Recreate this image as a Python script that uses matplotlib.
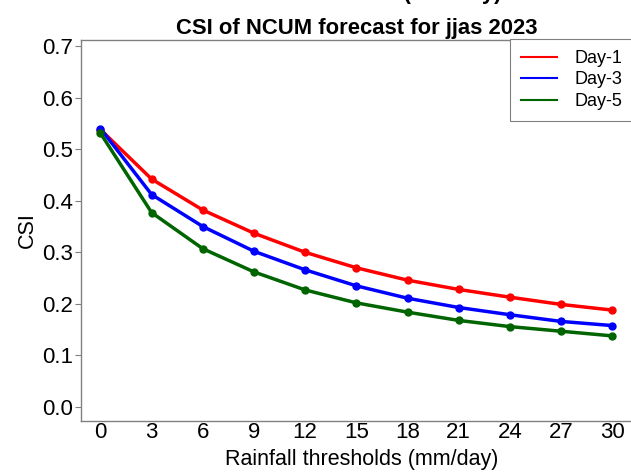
import matplotlib
matplotlib.use('Agg')
import matplotlib.pyplot as plt
import numpy as np

plt.rcParams['font.family'] = ['Liberation Sans', 'DejaVu Sans']

# rainfall thresholds (mm/day)
thresholds = [0, 3, 6, 9, 12, 15, 18, 21, 24, 27, 30]

# CSI values
csi_day1 = [0.538, 0.442, 0.382, 0.337, 0.300, 0.270, 0.246, 0.228, 0.213, 0.199, 0.188]
csi_day3 = [0.540, 0.412, 0.350, 0.302, 0.266, 0.235, 0.211, 0.193, 0.179, 0.166, 0.158]
csi_day5 = [0.531, 0.377, 0.307, 0.262, 0.227, 0.202, 0.184, 0.168, 0.156, 0.147, 0.138]

series = [('Day-1', csi_day1, '#ff0000'),
          ('Day-3', csi_day3, '#0000ff'),
          ('Day-5', csi_day5, '#006400')]

fig = plt.figure(figsize=(6.31, 4.72), dpi=100)
ax = fig.add_axes([81/631, 1 - 421/472, (643-81)/631, (421-40)/472])

for label, vals, col in series:
    ax.plot(thresholds, vals, color=col, lw=2.5, marker='o', ms=5, label=label)

ax.set_xlim(-1.14, 31.8)
ax.set_ylim(-0.027, 0.7116)
ax.set_xticks(thresholds)
yt = np.arange(0, 0.71, 0.1)
ax.set_yticks(yt)
ax.set_yticklabels(['%.1f' % v for v in yt])
ax.tick_params(axis='y', labelsize=16, length=4, color='gray', direction='out', pad=2)
ax.tick_params(axis='x', labelsize=16, length=0, pad=1)
for s in ax.spines.values():
    s.set_color('gray')
    s.set_linewidth(1)

ax.set_xlabel('Rainfall thresholds (mm/day)', fontsize=15.5, labelpad=4)
ax.set_ylabel('CSI', fontsize=15.5, labelpad=3)

fig.text(357/631, 1 - 34/472, 'CSI of NCUM forecast for jjas 2023', ha='center',
         va='baseline', fontsize=15.8, fontweight='bold')
# heading above, mostly outside the picture
fig.text(355/631, 1 + 1/472, 'Rainfall over India (mm/day)', ha='center',
         va='baseline', fontsize=15.8, fontweight='bold')

leg = ax.legend(loc='upper left', bbox_to_anchor=(510/631, 1 - 39/472),
                bbox_transform=fig.transFigure, fontsize=13, fancybox=False,
                framealpha=1, edgecolor='gray', borderaxespad=0,
                handlelength=2.0, handletextpad=1.0, labelspacing=0.25,
                borderpad=0.6)
leg.get_frame().set_linewidth(0.8)
for h in leg.get_lines():
    h.set_linewidth(1.5)
    h.set_marker('')

plt.savefig('out.png', dpi=100)
